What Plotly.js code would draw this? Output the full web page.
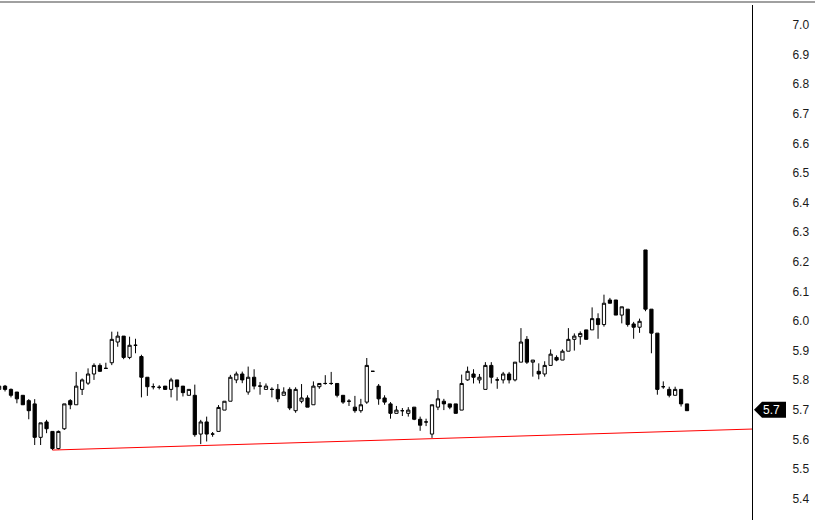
<!DOCTYPE html>
<html>
<head>
<meta charset="utf-8">
<script src="https://cdn.plot.ly/plotly-3.0.1.min.js"></script>
<style>
html,body{margin:0;padding:0;background:#fff;}
#chart{width:815px;height:520px;}
</style>
</head>
<body>
<div id="chart"></div>
<script>
var openP = [5.769,5.780,5.769,5.760,5.749,5.731,5.720,5.607,5.659,5.627,
5.569,5.636,5.731,5.717,5.769,5.790,5.821,5.850,5.840,5.859,
5.929,5.949,5.877,5.918,5.880,5.810,5.778,5.776,5.780,5.769,
5.801,5.780,5.749,5.749,5.618,5.659,5.618,5.627,5.699,5.729,
5.801,5.821,5.760,5.810,5.780,5.769,5.769,5.769,5.749,5.769,
5.697,5.729,5.740,5.717,5.778,5.789,5.789,5.789,5.749,5.729,
5.709,5.697,5.726,5.830,5.780,5.740,5.720,5.688,5.697,5.688,
5.709,5.668,5.659,5.618,5.709,5.729,5.720,5.720,5.699,5.801,
5.821,5.801,5.769,5.850,5.801,5.801,5.821,5.801,5.861,5.938,
5.861,5.830,5.821,5.850,5.877,5.868,5.898,5.938,5.947,5.970,
5.970,6.008,5.988,6.071,6.071,6.020,6.040,5.990,5.979,6.240,
6.040,5.959,5.778,5.769,5.749,5.769,5.720];
var highP = [5.783,5.784,5.772,5.760,5.749,5.736,5.736,5.656,5.666,5.627,
5.630,5.720,5.736,5.828,5.806,5.840,5.857,5.857,5.859,5.964,
5.964,5.949,5.947,5.940,5.886,5.810,5.789,5.783,5.780,5.808,
5.801,5.780,5.769,5.785,5.666,5.677,5.625,5.716,5.729,5.818,
5.829,5.829,5.846,5.837,5.794,5.789,5.776,5.787,5.776,5.776,
5.776,5.787,5.749,5.796,5.789,5.817,5.828,5.789,5.749,5.736,
5.747,5.737,5.875,5.830,5.787,5.749,5.726,5.713,5.706,5.709,
5.709,5.677,5.670,5.717,5.767,5.737,5.720,5.720,5.819,5.846,
5.837,5.821,5.861,5.861,5.810,5.828,5.828,5.861,5.976,5.949,
5.868,5.857,5.864,5.904,5.884,5.904,5.976,5.958,5.965,5.970,
6.046,6.026,6.089,6.078,6.071,6.048,6.040,5.997,6.008,6.240,
6.040,5.959,5.796,5.778,5.778,5.769,5.720];
var lowP = [5.766,5.762,5.742,5.722,5.717,5.668,5.581,5.581,5.621,5.564,
5.566,5.632,5.702,5.717,5.750,5.784,5.801,5.828,5.840,5.851,
5.913,5.871,5.871,5.891,5.742,5.747,5.769,5.769,5.767,5.742,
5.731,5.745,5.749,5.609,5.584,5.593,5.609,5.627,5.699,5.729,
5.790,5.790,5.751,5.769,5.751,5.769,5.742,5.726,5.749,5.699,
5.690,5.722,5.709,5.717,5.771,5.785,5.784,5.742,5.720,5.713,
5.690,5.690,5.720,5.830,5.717,5.717,5.670,5.688,5.679,5.677,
5.665,5.629,5.645,5.605,5.699,5.699,5.702,5.688,5.699,5.798,
5.789,5.789,5.769,5.789,5.771,5.789,5.789,5.796,5.861,5.855,
5.812,5.803,5.812,5.850,5.864,5.868,5.898,5.900,5.920,5.938,
5.970,5.940,5.981,6.060,6.020,5.992,5.981,5.940,5.960,6.033,
5.891,5.751,5.771,5.742,5.749,5.711,5.697];
var closeP = [5.780,5.769,5.749,5.737,5.717,5.697,5.607,5.656,5.636,5.569,
5.627,5.720,5.717,5.780,5.801,5.821,5.850,5.830,5.840,5.938,
5.949,5.877,5.918,5.918,5.810,5.778,5.778,5.776,5.769,5.801,
5.778,5.758,5.769,5.616,5.659,5.618,5.618,5.708,5.729,5.810,
5.821,5.801,5.810,5.780,5.780,5.780,5.769,5.737,5.760,5.706,
5.769,5.740,5.709,5.780,5.789,5.789,5.789,5.749,5.726,5.729,
5.697,5.717,5.850,5.830,5.737,5.726,5.688,5.699,5.697,5.699,
5.668,5.648,5.659,5.717,5.737,5.720,5.709,5.688,5.789,5.830,
5.810,5.810,5.850,5.810,5.801,5.821,5.801,5.861,5.929,5.861,
5.868,5.821,5.850,5.888,5.868,5.898,5.938,5.949,5.958,5.938,
6.008,5.988,6.060,6.060,6.020,6.048,5.988,5.979,5.999,6.040,
5.959,5.769,5.778,5.749,5.769,5.720,5.697];

var trendX = [9, 127];
var trendY = [5.564, 5.635];

var yTicks = [5.4,5.5,5.6,5.7,5.8,5.9,6.0,6.1,6.2,6.3,6.4,6.5,6.6,6.7,6.8,6.9,7.0];
var lastLabel = '5.7';
var lastValue = 5.7;

var xIdx = openP.map(function(_, i){ return i; });

var candle = {
  type: 'candlestick',
  x: xIdx, open: openP, high: highP, low: lowP, close: closeP,
  increasing: {line: {color: '#000', width: 1}, fillcolor: '#fff'},
  decreasing: {line: {color: '#000', width: 1}, fillcolor: '#000'},
  whiskerwidth: 0,
  hoverinfo: 'none',
  showlegend: false
};
var trend = {
  type: 'scatter', mode: 'lines', x: trendX, y: trendY,
  line: {color: '#ff0000', width: 1}, hoverinfo: 'none', showlegend: false
};

var layout = {
  width: 815, height: 520,
  margin: {l: 0, r: 63, t: 5, b: 0, pad: 0},
  paper_bgcolor: '#fff', plot_bgcolor: '#fff',
  showlegend: false,
  boxgap: 0.22,
  xaxis: {
    range: [0.15, 126.96], showgrid: false, zeroline: false, showticklabels: false,
    ticks: '', showline: false, rangeslider: {visible: false}, fixedrange: true
  },
  yaxis: {
    side: 'right', range: [5.3277, 7.0676], showgrid: false, zeroline: false,
    tickvals: yTicks, ticktext: yTicks.map(function(v){ return v.toFixed(1); }),
    ticks: '', showline: true, linecolor: '#000', linewidth: 1,
    ticklabelstandoff: 37,
    tickfont: {family: 'Liberation Sans, Arial, sans-serif', size: 12, color: '#1a1a1a'},
    automargin: false, fixedrange: true
  },
  shapes: [
    {type: 'line', xref: 'paper', yref: 'paper', x0: 0, x1: 1.09, y0: 1.0058, y1: 1.0058,
     line: {color: '#a0a0a0', width: 2}},
    {type: 'path', xref: 'paper', yref: 'y', xsizemode: 'pixel', ysizemode: 'pixel',
     xanchor: 1, yanchor: lastValue,
     path: 'M 2 0 L 10 8 L 34 8 L 34 -8 L 10 -8 Z',
     fillcolor: '#000', line: {color: '#000', width: 0}}
  ],
  annotations: [
    {xref: 'paper', yref: 'y', x: 1.0255, y: lastValue, text: lastLabel, showarrow: false,
     xanchor: 'center', yanchor: 'middle',
     font: {family: 'Liberation Sans, Arial, sans-serif', size: 12, color: '#fff'}}
  ]
};

Plotly.newPlot('chart', [trend, candle], layout, {staticPlot: true, displayModeBar: false});
</script>
</body>
</html>
